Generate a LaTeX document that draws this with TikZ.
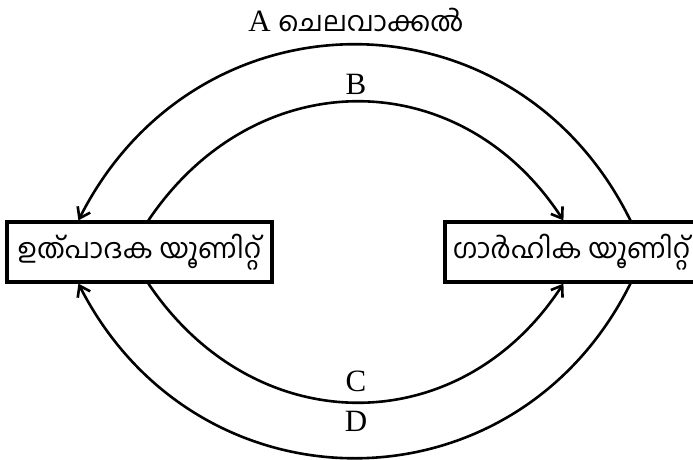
\documentclass[tikz,border=0pt]{standalone}
\usepackage{fontspec}
\setmainfont{Liberation Serif}
\newfontfamily\mlfont[Script=Malayalam]{Hind Kochi}
\usetikzlibrary{arrows.meta}
\begin{document}
\begin{tikzpicture}[x=1pt,y=-1pt,
  unitbox/.style={draw,line width=3.2pt,minimum height=60pt,inner sep=0pt,font=\mlfont\fontsize{27.5}{32}\selectfont},
  flow/.style={line width=2.6pt,-{Straight Barb[length=10pt,width=14pt,line width=2.6pt]}},
  lbl/.style={font=\fontsize{31}{36}\selectfont,inner sep=0pt}]
\clip (0,0) rectangle (693,460);
\fill[white] (0,0) rectangle (693,460);
\node[unitbox,minimum width=265pt] (lbox) at (139.5,252) {ഉത്പാദക യൂണിറ്റ്};
\node[unitbox,minimum width=253pt] (rbox) at (571.5,252) {ഗാർഹിക യൂണിറ്റ്};
% A outer top
\draw[flow] ([xshift=187pt]rbox.north west) .. controls (515,-14) and (197,-14) .. ([xshift=73pt]lbox.north west);
% B inner top
\draw[flow] ([xshift=143pt]lbox.north west) .. controls (255,62) and (460,62) .. ([xshift=120pt]rbox.north west);
% C inner bottom
\draw[flow] ([xshift=143pt]lbox.south west) .. controls (255,442) and (460,442) .. ([xshift=120pt]rbox.south west);
% D outer bottom
\draw[flow] ([xshift=187pt]rbox.south west) .. controls (515,516) and (197,516) .. ([xshift=73pt]lbox.south west);
\node[lbl] (la) at (356,20) {A {\mlfont\fontsize{27.5}{32}\selectfont ചെലവാക്കൽ}};
\node[lbl] (lb) at (356,84) {B};
\node[lbl] (lc) at (356,381) {C};
\node[lbl] (ld) at (356,421) {D};
\end{tikzpicture}
\end{document}
